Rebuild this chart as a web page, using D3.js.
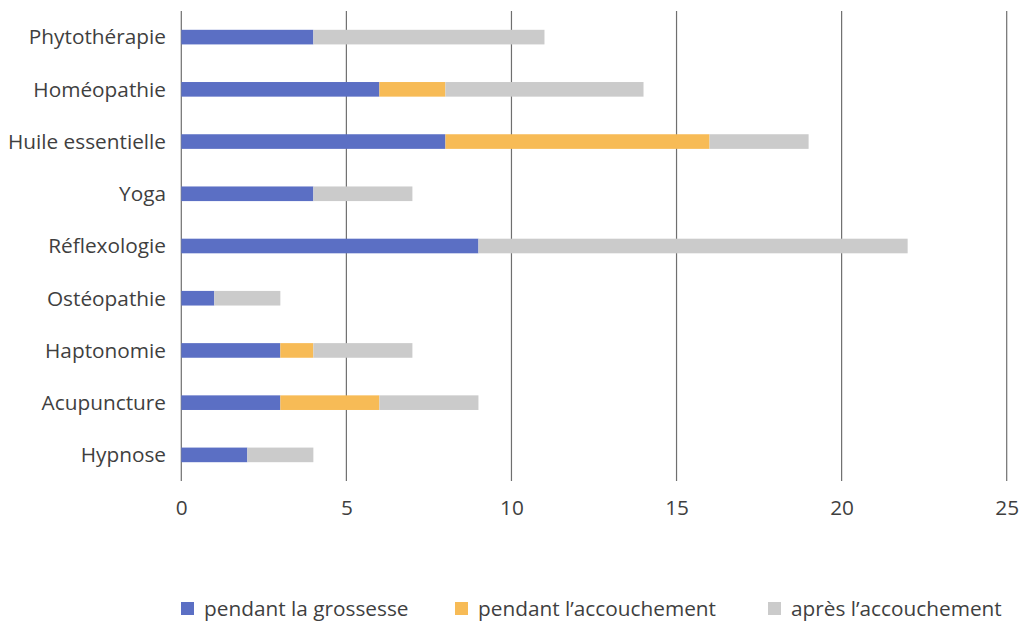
<!DOCTYPE html>
<html><head><meta charset="utf-8">
<script src="https://cdn.jsdelivr.net/npm/d3@7"></script>
<style>body{margin:0;background:#fff}svg{display:block}</style>
</head><body>
<svg id="c" width="1022" height="623"></svg>
<script>
const categories = ["Phytothérapie","Homéopathie","Huile essentielle","Yoga","Réflexologie","Ostéopathie","Haptonomie","Acupuncture","Hypnose"];
const grossesse = [4,6,8,4,9,1,3,3,2];
const accouchement = [0,2,8,0,0,0,1,3,0];
const apres = [7,6,3,3,13,2,3,3,2];
const seriesNames = ["pendant la grossesse","pendant l\u2019accouchement","apr\u00e8s l\u2019accouchement"];
const seriesColors = ["#5b6fc4","#f7bb56","#cbcbcb"];
const xTicks = [0,5,10,15,20,25];

const font = "'Open Sans', sans-serif";
const fs = 20.8;
const textColor = "#3f3f3f";
const svg = d3.select("#c");
const x = d3.scaleLinear().domain([0,25]).range([181.3,1006.7]);
const y = d3.scaleBand().domain(categories).range([11,481]).paddingInner(0.72).paddingOuter(0.36);

const rows = categories.map((c,i)=>({cat:c, g:grossesse[i], a:accouchement[i], p:apres[i]}));
const stack = d3.stack().keys(["g","a","p"])(rows);

// gridlines
svg.append("g").selectAll("line").data(xTicks).join("line")
  .attr("x1",d=>x(d)).attr("x2",d=>x(d)).attr("y1",11).attr("y2",481)
  .attr("stroke","#6f6f6f").attr("stroke-width",1.2);

// bars
svg.append("g").selectAll("g").data(stack).join("g")
  .attr("fill",(d,i)=>seriesColors[i])
  .selectAll("rect").data(d=>d).join("rect")
  .attr("x",d=>x(d[0])).attr("width",d=>x(d[1])-x(d[0]))
  .attr("y",d=>y(d.data.cat)).attr("height",y.bandwidth());

// y labels
svg.append("g").selectAll("text").data(categories).join("text")
  .attr("x",166).attr("y",d=>y(d)+y.bandwidth()/2).attr("dy","0.35em")
  .attr("text-anchor","end").attr("font-family",font).attr("font-size",fs)
  .attr("fill",textColor).text(d=>d);

// x axis tick labels
const xa = svg.append("g").attr("transform","translate(0,481)")
  .call(d3.axisBottom(x).tickValues(xTicks).tickSize(0).tickPadding(19));
xa.select(".domain").remove();
xa.selectAll("text").attr("font-family",font).attr("font-size",fs).attr("fill",textColor);

// legend
const legX = [181,455,768];
const leg = svg.append("g").selectAll("g").data(seriesNames).join("g")
  .attr("transform",(d,i)=>`translate(${legX[i]},608.5)`);
leg.append("rect").attr("x",0).attr("y",-6.5).attr("width",13).attr("height",13).attr("fill",(d,i)=>seriesColors[i]);
leg.append("text").attr("x",23).attr("dy","0.35em").attr("font-family",font).attr("font-size",fs)
  .attr("fill",textColor).text(d=>d);
</script>
</body></html>
